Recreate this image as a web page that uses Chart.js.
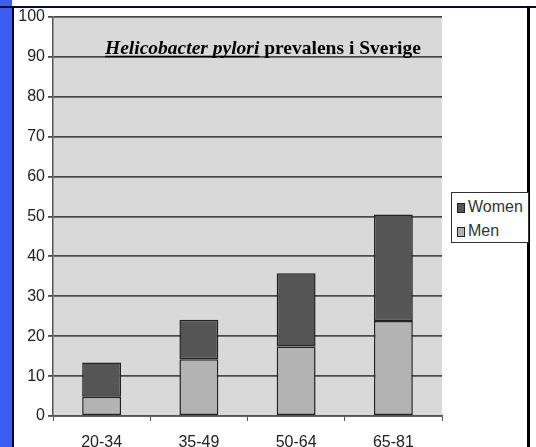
<!DOCTYPE html>
<html>
<head>
<meta charset="utf-8">
<script src="https://cdn.jsdelivr.net/npm/chart.js@4"></script>
<style>
  html, body { margin: 0; padding: 0; background: #fff; }
  #wrap { position: relative; width: 536px; height: 447px; overflow: hidden; }
  #chart { position: absolute; left: 0; top: 0; }
  .blue { position: absolute; left: 0; top: 0; width: 12px; height: 447px; background: #3c5cf2; }
  .topline { position: absolute; left: 0; top: 6px; width: 536px; height: 2px; background: #0c0c2a; }
  .leftline { position: absolute; left: 12px; top: 6px; width: 2px; height: 441px; background: #000; }
  .rightline { position: absolute; left: 527px; top: 6px; width: 3px; height: 441px; background: #000; }
  #legend { position: absolute; left: 451px; top: 192px; width: 76px; height: 49px;
            border: 1px solid #333; background: #fff; font: 16px "Liberation Sans", Arial, sans-serif; color: #333; }
  #legend div { position: absolute; left: 5px; height: 20px; line-height: 20px; white-space: nowrap; }
  #legend span { display: inline-block; width: 6px; height: 8px; border: 1px solid #222; margin-right: 3px; vertical-align: -1px; }
</style>
</head>
<body>
<div id="wrap">
  <canvas id="chart" width="536" height="447"></canvas>
  <div class="blue"></div>
  <div class="topline"></div>
  <div class="leftline"></div>
  <div class="rightline"></div>
  <div id="legend"></div>
</div>
<script>
// Data for the chart
const ageGroups = ["20-34", "35-49", "50-64", "65-81"];
const men = [4.8, 14.2, 17.4, 23.8];
const women = [8.6, 9.9, 18.4, 26.7];
const yTicks = [0, 10, 20, 30, 40, 50, 60, 70, 80, 90, 100];

// Grey plot background
const plotBg = {
    id: "plotBg",
    beforeDraw(chart) {
        const a = chart.chartArea, ctx = chart.ctx;
        ctx.save();
        ctx.fillStyle = "#d9d9d9";
        ctx.fillRect(a.left, a.top, a.right - a.left, a.bottom - a.top);
        ctx.restore();
    }
};

// Title text sitting inside the plot
const plotTitle = {
    id: "plotTitle",
    afterDatasetsDraw(chart) {
        const ctx = chart.ctx;
        const x = chart.chartArea.left + 52;
        const y = chart.scales.y.getPixelForValue(90.8);
        ctx.save();
        ctx.fillStyle = "#000";
        ctx.textBaseline = "alphabetic";
        ctx.font = "italic bold 19.5px 'Liberation Serif'";
        const part1 = "Helicobacter pylori";
        ctx.fillText(part1, x, y);
        const w1 = ctx.measureText(part1).width;
        ctx.fillRect(x, y + 2, w1, 1.5);
        ctx.font = "bold 19.5px 'Liberation Serif'";
        ctx.fillText(" prevalens i Sverige", x + w1, y);
        ctx.restore();
    }
};

const ctx = document.getElementById("chart").getContext("2d");
const chart = new Chart(ctx, {
    type: "bar",
    data: {
        labels: ageGroups,
        datasets: [
            {
                label: "Men",
                data: men,
                backgroundColor: "#b3b3b3",
                borderColor: "#222",
                borderWidth: 1.5,
                borderSkipped: false
            },
            {
                label: "Women",
                data: women,
                backgroundColor: "#555555",
                borderColor: "#222",
                borderWidth: 1.5,
                borderSkipped: false
            }
        ]
    },
    options: {
        responsive: false,
        animation: false,
        layout: { padding: { top: 17, right: 94, left: 0, bottom: 0 } },
        datasets: { bar: { categoryPercentage: 1, barPercentage: 0.4 } },
        plugins: {
            legend: { display: false },
            tooltip: { enabled: false }
        },
        scales: {
            x: {
                stacked: true,
                afterFit: s => { s.height = 31; },
                grid: { drawOnChartArea: false, drawTicks: true, tickLength: 5, color: "#555" },
                border: { color: "#555", width: 1.5 },
                ticks: { color: "#222", padding: 12, font: { family: "Liberation Sans", size: 16 } }
            },
            y: {
                stacked: true,
                min: 0,
                max: 100,
                afterFit: s => { s.width = 53; },
                afterBuildTicks: s => { s.ticks = yTicks.map(v => ({ value: v })); },
                grid: { color: "#4a4a4a", lineWidth: 1.8, tickLength: 5 },
                border: { color: "#555", width: 1.5 },
                ticks: { color: "#222", padding: 3, font: { family: "Liberation Sans", size: 16 } }
            }
        }
    },
    plugins: [plotBg, plotTitle]
});

// Legend, women on top
const legend = document.getElementById("legend");
chart.data.datasets.slice().reverse().forEach((ds, i) => {
    const item = document.createElement("div");
    item.style.top = (4 + i * 24) + "px";
    item.innerHTML = '<span style="background:' + ds.backgroundColor + '"></span>' + ds.label;
    legend.appendChild(item);
});
</script>
</body>
</html>
